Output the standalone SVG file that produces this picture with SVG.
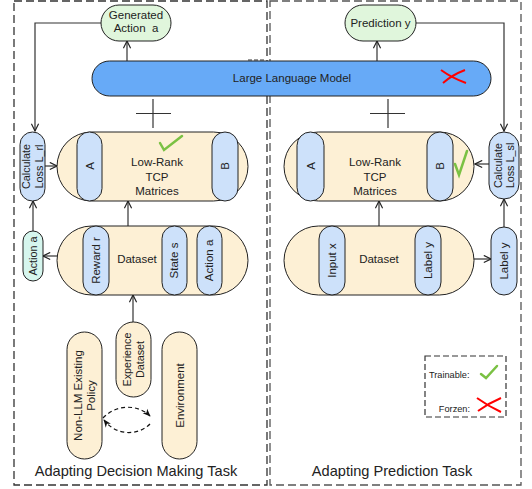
<svg xmlns="http://www.w3.org/2000/svg" width="532" height="489" viewBox="0 0 532 489">
<defs>
<marker id="open" viewBox="0 0 10 10" refX="9" refY="5" markerWidth="9" markerHeight="9" markerUnits="userSpaceOnUse" orient="auto">
<path d="M1,1 L9,5 L1,9" fill="none" stroke="#222" stroke-width="1.3"/>
</marker>
<marker id="solid" viewBox="0 0 10 10" refX="9" refY="5" markerWidth="8" markerHeight="8" markerUnits="userSpaceOnUse" orient="auto">
<path d="M0,1 L10,5 L0,9 L3,5 Z" fill="#111"/>
</marker>
</defs>
<style>
text{font-family:"Liberation Sans",Arial,sans-serif;fill:#222;}
.t11{font-size:11.5px;}
.t10{font-size:10.8px;}
.big{font-size:14.6px;}
.leg{font-size:9.2px;}
.frame{fill:none;stroke-width:1.3;stroke-dasharray:8,4;}
.beige{fill:#fdf0d5;stroke:#222;stroke-width:1;}
.blue{fill:#cde1fa;stroke:#222;stroke-width:1;}
.green{fill:#e0f6dc;stroke:#222;stroke-width:1;}
.cyan{fill:#d6f6ee;stroke:#222;stroke-width:1;}
.conn{fill:none;stroke:#333;stroke-width:1.2;}
.check{fill:none;stroke:#7ac143;stroke-width:2.5;stroke-linecap:round;}
.cross{fill:none;stroke:#ff0000;stroke-width:2;}
</style>

<g id="frames">
<rect class="frame" x="14" y="1" width="253" height="484" stroke="#333"/>
<rect class="frame" x="270" y="1" width="251" height="484" stroke="#555"/>
<line x1="248" y1="60" x2="266" y2="60" stroke="#333" stroke-width="1" stroke-dasharray="4,2"/>
</g>

<g id="connectors">
<line class="conn" x1="127" y1="61" x2="127" y2="41" marker-end="url(#open)"/>
<path class="conn" d="M101,23 H35 V131" stroke="#555" marker-end="url(#open)"/>
<line class="conn" x1="377" y1="61" x2="377" y2="41" marker-end="url(#open)"/>
<path class="conn" d="M416,23 H504 V131" marker-end="url(#open)"/>
<line class="conn" x1="136" y1="113.5" x2="171" y2="113.5" stroke-width="1.5"/>
<line class="conn" x1="153" y1="99" x2="153" y2="128" stroke-width="1.5"/>
<line class="conn" x1="370" y1="113.5" x2="405" y2="113.5" stroke-width="1.5"/>
<line class="conn" x1="388" y1="99" x2="388" y2="128" stroke-width="1.5"/>
<line class="conn" x1="45" y1="166" x2="57" y2="166" marker-end="url(#open)"/>
<line class="conn" x1="490" y1="164" x2="475" y2="164" marker-end="url(#open)"/>
<line class="conn" x1="128" y1="226" x2="128" y2="201" marker-end="url(#open)"/>
<line class="conn" x1="379" y1="226" x2="379" y2="201" marker-end="url(#open)"/>
<line class="conn" x1="57" y1="256" x2="43" y2="256" marker-end="url(#open)"/>
<line class="conn" x1="33" y1="231" x2="33" y2="201" marker-end="url(#open)"/>
<line class="conn" x1="474" y1="259" x2="491" y2="259" marker-end="url(#open)"/>
<line class="conn" x1="504" y1="227" x2="504" y2="199" marker-end="url(#open)"/>
<line class="conn" x1="133" y1="322" x2="133" y2="295" marker-end="url(#open)"/>
<path d="M103,418 C116,404 138,404 150,416" fill="none" stroke="#111" stroke-width="1.2" stroke-dasharray="4,3" marker-end="url(#solid)"/>
<path d="M150,424 C138,436 116,436 104,420" fill="none" stroke="#111" stroke-width="1.2" stroke-dasharray="4,3" marker-end="url(#solid)"/>
</g>

<g id="llm">
<rect x="92" y="61" width="399" height="35" rx="17.5" fill="#67aaf7" stroke="#222" stroke-width="1"/>
<text class="t11" x="292" y="82" text-anchor="middle">Large Language Model</text>
<path class="cross" d="M441,70 Q452,78 466,83 M443,83 Q452,75 465,70"/>
</g>

<g id="generated-action">
<rect class="green" x="101" y="5" width="70" height="36" rx="18"/>
<text class="t11" x="136" y="19" text-anchor="middle">Generated</text>
<text class="t11" x="136" y="32" text-anchor="middle" xml:space="preserve">Action  a</text>
</g>

<g id="prediction">
<rect class="green" x="345" y="5" width="71" height="36" rx="18"/>
<text class="t11" x="380.5" y="27" text-anchor="middle">Prediction y</text>
</g>

<g id="lowrank-left">
<rect class="beige" x="57" y="132" width="191" height="69" rx="34.5"/>
<rect class="blue" x="77" y="132" width="25" height="69" rx="12.5"/>
<text class="t11" x="89.5" y="170" text-anchor="middle" transform="rotate(-90 89.5 166)">A</text>
<rect class="blue" x="212" y="132" width="26" height="69" rx="13"/>
<text class="t11" x="225" y="170" text-anchor="middle" transform="rotate(-90 225 166)">B</text>
<text class="t11" x="157" y="166" text-anchor="middle">Low-Rank</text>
<text class="t11" x="157" y="180.5" text-anchor="middle">TCP</text>
<text class="t11" x="157" y="195" text-anchor="middle">Matrices</text>
<path class="check" d="M160,143 L164,150 L182,136"/>
</g>

<g id="calc-loss-rl">
<rect class="blue" x="20" y="132" width="25" height="69" rx="12.5"/>
<text class="t10" x="32.5" y="164" text-anchor="middle" transform="rotate(-90 32.5 166.5)">Calculate</text>
<text class="t10" x="32.5" y="176.5" text-anchor="middle" transform="rotate(-90 32.5 166.5)">Loss L_rl</text>
</g>

<g id="dataset-left">
<rect class="beige" x="57" y="226" width="191" height="69" rx="34.5"/>
<rect class="blue" x="83" y="226" width="26" height="69" rx="13"/>
<text class="t11" x="96" y="264" text-anchor="middle" transform="rotate(-90 96 260.5)">Reward r</text>
<rect class="blue" x="162" y="226" width="25" height="69" rx="12.5"/>
<text class="t11" x="174.5" y="264" text-anchor="middle" transform="rotate(-90 174.5 260.5)">State s</text>
<rect class="blue" x="197" y="226" width="25" height="69" rx="12.5"/>
<text class="t11" x="209.5" y="264" text-anchor="middle" transform="rotate(-90 209.5 260.5)">Action a</text>
<text class="t11" x="137" y="263" text-anchor="middle">Dataset</text>
</g>

<g id="action-a-left">
<rect class="cyan" x="23" y="231" width="20" height="50" rx="10"/>
<text class="t10" x="33" y="259.5" text-anchor="middle" transform="rotate(-90 33 256)">Action a</text>
</g>

<g id="experience">
<rect class="beige" x="116" y="322" width="35" height="75" rx="17.5"/>
<text class="t10" x="133.5" y="357" text-anchor="middle" transform="rotate(-90 133.5 359.5)">Experience</text>
<text class="t10" x="133.5" y="369.5" text-anchor="middle" transform="rotate(-90 133.5 359.5)">Dataset</text>
</g>

<g id="policy">
<rect class="beige" x="67" y="332" width="35" height="127" rx="17.5"/>
<text class="t11" x="84.5" y="393" text-anchor="middle" transform="rotate(-90 84.5 395.5)">Non-LLM Existing</text>
<text class="t11" x="84.5" y="406" text-anchor="middle" transform="rotate(-90 84.5 395.5)">Policy</text>
</g>

<g id="environment">
<rect class="beige" x="162" y="332" width="35" height="127" rx="17.5"/>
<text class="t11" x="179.5" y="399.5" text-anchor="middle" transform="rotate(-90 179.5 395.5)">Environment</text>
</g>

<g id="lowrank-right">
<rect class="beige" x="284" y="132" width="190" height="69" rx="34.5"/>
<rect class="blue" x="297" y="132" width="27" height="69" rx="13.5"/>
<text class="t11" x="310.5" y="170" text-anchor="middle" transform="rotate(-90 310.5 166)">A</text>
<rect class="blue" x="427" y="132" width="26" height="69" rx="13"/>
<text class="t11" x="440" y="170" text-anchor="middle" transform="rotate(-90 440 166)">B</text>
<text class="t11" x="375" y="166" text-anchor="middle">Low-Rank</text>
<text class="t11" x="375" y="180.5" text-anchor="middle">TCP</text>
<text class="t11" x="375" y="195" text-anchor="middle">Matrices</text>
<path class="check" d="M455,164 L459,175 L467,151"/>
</g>

<g id="calc-loss-sl">
<rect class="blue" x="489" y="132" width="30" height="67" rx="15"/>
<text class="t10" x="504" y="163" text-anchor="middle" transform="rotate(-90 504 165.5)">Calculate</text>
<text class="t10" x="504" y="175.5" text-anchor="middle" transform="rotate(-90 504 165.5)">Loss L_sl</text>
</g>

<g id="dataset-right">
<rect class="beige" x="284" y="226" width="190" height="69" rx="34.5"/>
<rect class="blue" x="319" y="226" width="26" height="69" rx="13"/>
<text class="t11" x="332" y="264" text-anchor="middle" transform="rotate(-90 332 260.5)">Input x</text>
<rect class="blue" x="415" y="226" width="26" height="69" rx="13"/>
<text class="t11" x="428" y="264" text-anchor="middle" transform="rotate(-90 428 260.5)">Label y</text>
<text class="t11" x="379" y="263" text-anchor="middle">Dataset</text>
</g>

<g id="label-y-right">
<rect class="blue" x="491" y="227" width="26" height="68" rx="13"/>
<text class="t11" x="504" y="265" text-anchor="middle" transform="rotate(-90 504 261)">Label y</text>
</g>

<g id="legend">
<rect x="425" y="356" width="81" height="61" fill="none" stroke="#333" stroke-width="1.2" stroke-dasharray="6,3"/>
<text class="leg" x="429" y="378">Trainable:</text>
<path class="check" d="M481,374 L486,378 L497,366"/>
<text class="leg" x="470" y="412" text-anchor="end">Forzen:</text>
<path class="cross" d="M477,398 Q488,406 501,412 M478,411 Q489,403 501,398"/>
</g>

<g id="titles">
<text class="big" x="136" y="476" text-anchor="middle">Adapting Decision Making Task</text>
<text class="big" x="392" y="476" text-anchor="middle">Adapting Prediction Task</text>
</g>
</svg>
